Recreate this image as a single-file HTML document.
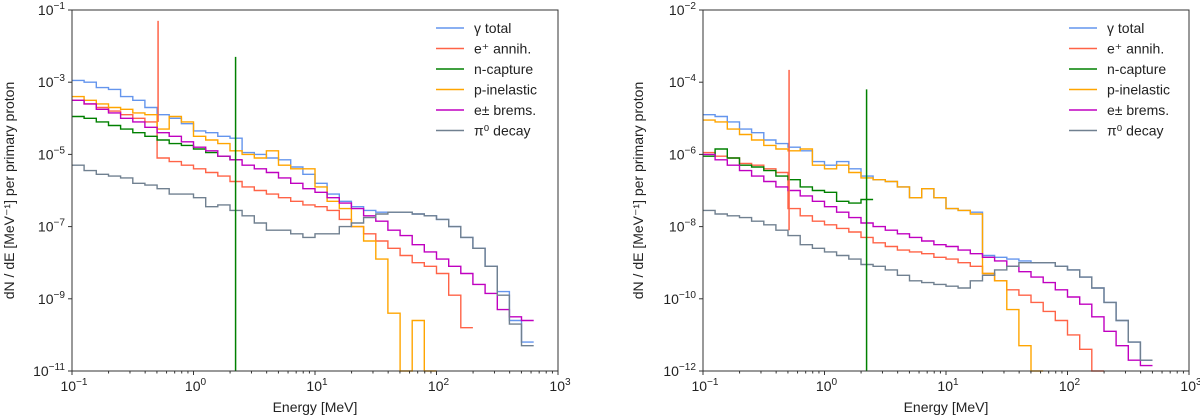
<!DOCTYPE html>
<html><head><meta charset="utf-8"><style>
body{margin:0;background:#fff;}
svg{display:block;font-family:"Liberation Sans","DejaVu Sans",sans-serif;}
</style></head><body>
<svg id="chart" width="1200" height="417" viewBox="0 0 1200 417"></svg>
<script>
const xTickExps=[-1,0,1,2,3];
const seriesNames=["γ total","e⁺ annih.","n-capture","p-inelastic","e± brems.","π⁰ decay"];
const seriesColors=["#6495ed","#ff6347","#008000","#ffa500","#c000c0","#708090"];
// log10 of dN/dE, 10 bins per decade from 0.1 to 1000 MeV
const L_gamma=[-2.95,-3.0,-3.15,-3.2,-3.4,-3.5,-3.7,-3.9,-4.0,-4.15,-4.35,-4.4,-4.5,-4.55,-4.95,-5.0,-5.1,-5.15,-5.35,-5.55,-5.8,-6.1,-6.3,-6.45,-6.55,-6.6,-6.6,-6.6,-6.65,-6.7,-6.8,-7.0,-7.3,-7.6,-8.1,-8.8,-9.6,-10.2,null,null];
const L_annih=[-3.5,-3.6,-3.7,-3.8,-3.9,-4.0,-4.1,-5.1,-5.2,-5.3,-5.4,-5.5,-5.6,-5.75,-5.9,-6.0,-6.1,-6.2,-6.3,-6.4,-6.45,-6.55,-6.8,-7.0,-7.2,-7.4,-7.6,-7.8,-8.0,-8.1,-8.3,-8.9,-9.8,null,null,null,null,null,null,null];
const L_ncap=[-3.95,-4.0,-4.1,-4.2,-4.3,-4.4,-4.5,-4.6,-4.7,-4.75,-4.85,-4.95,-5.05,-5.15,null,null,null,null,null,null,null,null,null,null,null,null,null,null,null,null,null,null,null,null,null,null,null,null,null,null];
const L_pinel=[-3.4,-3.5,-3.6,-3.7,-3.75,-3.85,-3.9,-4.3,-3.95,-4.1,-4.5,-4.6,-4.7,-4.9,-5.0,-5.1,-4.9,-5.3,-5.4,-5.4,-5.9,-6.3,-6.5,-7.0,-7.4,-7.9,-9.4,-11.5,-9.6,-11.5,null,null,null,null,null,null,null,null,null,null];
const L_brems=[-3.5,-3.6,-3.75,-3.85,-4.0,-4.1,-4.25,-4.4,-4.5,-4.65,-4.8,-4.9,-5.05,-5.15,-5.3,-5.4,-5.5,-5.65,-5.8,-5.95,-6.05,-6.2,-6.35,-6.5,-6.7,-6.85,-7.1,-7.25,-7.5,-7.7,-7.9,-8.1,-8.3,-8.6,-8.85,-9.3,-9.5,-9.6,null,null];
const L_pi0=[-5.3,-5.45,-5.55,-5.6,-5.65,-5.8,-5.85,-5.95,-6.1,-6.1,-6.2,-6.45,-6.4,-6.55,-6.7,-6.9,-7.1,-7.1,-7.2,-7.3,-7.2,-7.2,-7.0,-6.9,-6.75,-6.65,-6.6,-6.6,-6.65,-6.7,-6.8,-7.0,-7.3,-7.6,-8.1,-8.9,-9.7,-10.3,null,null];
const R_gamma=[-4.9,-4.95,-5.1,-5.3,-5.4,-5.6,-5.7,-5.8,-5.9,-6.2,-6.3,-6.2,-6.4,-6.6,-6.7,-6.75,-6.9,-7.2,-6.95,-7.2,-7.5,-7.55,-7.6,-8.8,-8.85,-8.9,-8.95,-9.0,-9.0,-9.1,-9.2,-9.4,-9.7,-10.1,-10.6,-11.2,-11.7,null,null,null];
const R_annih=[-5.95,-6.05,-6.1,-6.25,-6.3,-6.4,-6.5,-7.5,-7.7,-7.85,-7.95,-8.05,-8.15,-8.3,-8.45,-8.55,-8.65,-8.7,-8.75,-8.85,-8.9,-9.0,-9.1,-9.3,-9.5,-9.75,-9.9,-10.1,-10.35,-10.6,-11.0,-11.4,-12.1,null,null,null,null,null,null,null];
const R_ncap=[-6.05,-5.85,-6.1,-6.3,-6.35,-6.45,-6.6,-6.7,-6.9,-7.0,-7.05,-7.3,-7.35,-7.25,null,null,null,null,null,null,null,null,null,null,null,null,null,null,null,null,null,null,null,null,null,null,null,null,null,null];
const R_pinel=[-5.05,-5.1,-5.3,-5.45,-5.6,-5.75,-5.85,-5.9,-5.85,-6.3,-6.4,-6.3,-6.5,-6.65,-6.7,-6.75,-6.9,-7.2,-6.95,-7.2,-7.5,-7.55,-7.65,-9.3,-9.5,-10.3,-11.3,-12.2,null,null,null,null,null,null,null,null,null,null,null,null];
const R_brems=[-6.0,-6.15,-6.3,-6.45,-6.6,-6.75,-6.9,-7.0,-7.15,-7.3,-7.45,-7.6,-7.75,-7.9,-8.0,-8.1,-8.2,-8.3,-8.4,-8.5,-8.55,-8.65,-8.75,-8.85,-8.95,-9.1,-9.25,-9.4,-9.55,-9.75,-9.95,-10.15,-10.5,-10.9,-11.3,-11.7,-11.85,null,null,null];
const R_pi0=[-7.55,-7.65,-7.7,-7.75,-7.85,-7.95,-8.1,-8.25,-8.5,-8.6,-8.7,-8.8,-8.9,-9.05,-9.1,-9.2,-9.35,-9.5,-9.55,-9.6,-9.65,-9.7,-9.5,-9.35,-9.2,-9.1,-9.0,-9.0,-9.0,-9.1,-9.2,-9.4,-9.7,-10.1,-10.6,-11.2,-11.7,null,null,null];
// line spikes: [energy MeV, log10 top, log10 bottom]
const L_annihSpike=[0.511,-1.3,-4.1];
const L_ncapSpike=[2.22,-2.3,-11];
const R_annihSpike=[0.511,-3.66,-8.1];
const R_ncapSpike=[2.22,-4.2,-12];
const L_yTicks=[-1,-3,-5,-7,-9,-11];
const R_yTicks=[-2,-4,-6,-8,-10,-12];

const NS="http://www.w3.org/2000/svg";
const svg=document.getElementById('chart');
function mk(tag,attrs,parent){const e=document.createElementNS(NS,tag);for(const k in attrs)e.setAttribute(k,attrs[k]);(parent||svg).appendChild(e);return e;}
function supText(parent,x,y,base,exp,anchor,size){
  const t=mk('text',{x:x,y:y,'text-anchor':anchor,'font-size':size,fill:'#222'},parent);
  t.appendChild(document.createTextNode(base));
  const s=mk('tspan',{dy:-6,'font-size':size*0.72},t);s.textContent=exp;
  return t;
}
function panel(id,x0,x1,y0,y1,yTop,yBot,series,spikes,yTicks,legendX,prefix,ytX){
  const g=mk('g',{});
  
  
  const X=e=>x0+(Math.log10(e)+1)/4*(x1-x0);
  const Y=v=>y0+(yTop-Math.max(v,yBot))/(yTop-yBot)*(y1-y0);
  const plot=mk('g',{},g);
  
  
  series.forEach((arr,si)=>{
    let d='';let prev=null;
    for(let i=0;i<arr.length;i++){
      const v=arr[i];
      if(v===null){prev=null;continue;}
      const xa=X(Math.pow(10,-1+i/10)),xb=X(Math.pow(10,-1+(i+1)/10)),y=Y(v);
      if(prev===null)d+='M'+xa.toFixed(1)+' '+y.toFixed(1);else d+='L'+xa.toFixed(1)+' '+y.toFixed(1);
      d+='L'+xb.toFixed(1)+' '+y.toFixed(1);prev=v;
    }
    const p=mk('path',{d:d,fill:'none',stroke:seriesColors[si],'stroke-width':1.4},plot);
    
    
  });
  spikes.forEach(sp=>{
    const si=sp[3];
    const l=mk('line',{x1:X(sp[0]),x2:X(sp[0]),y1:Y(sp[1]),y2:Y(sp[2]),stroke:seriesColors[si],'stroke-width':1.5},plot);
    
    
  });
  const fr=mk('rect',{x:x0,y:y0,width:x1-x0,height:y1-y0,fill:'none',stroke:'#333','stroke-width':1},g);
  
  
  xTickExps.forEach(e=>{
    const x=X(Math.pow(10,e));
    mk('line',{x1:x,x2:x,y1:y1,y2:y1+4,stroke:'#333'},g);
    const t=supText(g,x+2,y1+20,'10',String(e).replace('-','−'),'middle',14);
    
    
    if(e<3)for(let m=2;m<10;m++){const xm=X(m*Math.pow(10,e));mk('line',{x1:xm,x2:xm,y1:y1,y2:y1+2.5,stroke:'#333'},g);}
  });
  yTicks.forEach(e=>{
    const y=Y(e);
    mk('line',{x1:x0-4,x2:x0,y1:y,y2:y,stroke:'#333'},g);
    const t=supText(g,x0-7,y+5,'10',String(e).replace('-','−'),'end',14);
    
    
  });
  const xl=mk('text',{x:(x0+x1)/2,y:412,'text-anchor':'middle','font-size':14,fill:'#222'},g);
  xl.textContent='Energy [MeV]';
  
  
  const yl=mk('text',{x:0,y:0,'text-anchor':'middle','font-size':14,fill:'#222',transform:'translate('+ytX+','+((y0+y1)/2)+') rotate(-90)'},g);
  yl.textContent='dN / dE [MeV⁻¹]  per primary proton';
  
  
  const lg=mk('g',{},g);
  
  
  seriesNames.forEach((n,i)=>{
    const ly=28+i*20.5;
    const e=mk('g',{},lg);
    
    
    mk('line',{x1:legendX,x2:legendX+28,y1:ly,y2:ly,stroke:seriesColors[i],'stroke-width':1.6},e);
    const t=mk('text',{x:legendX+38,y:ly+5,'font-size':14,fill:'#222'},e);
    t.textContent=n;
  });
}
panel('L',72,558,10,371,-1,-11,[L_gamma,L_annih,L_ncap,L_pinel,L_brems,L_pi0],
  [[L_annihSpike[0],L_annihSpike[1],L_annihSpike[2],1],[L_ncapSpike[0],L_ncapSpike[1],L_ncapSpike[2],2]],L_yTicks,436,'left',14);
panel('R',703,1189,10,371,-2,-12,[R_gamma,R_annih,R_ncap,R_pinel,R_brems,R_pi0],
  [[R_annihSpike[0],R_annihSpike[1],R_annihSpike[2],1],[R_ncapSpike[0],R_ncapSpike[1],R_ncapSpike[2],2]],R_yTicks,1069,'right',643);
</script>
</body></html>
